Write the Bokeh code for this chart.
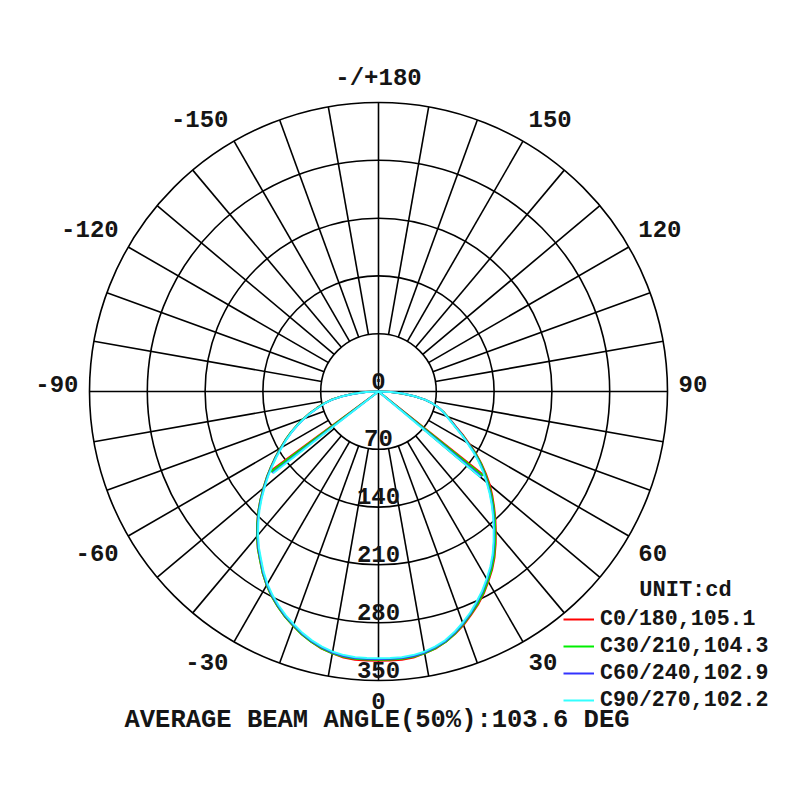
import numpy as np
from bokeh.plotting import figure
from bokeh.models import Range1d, Legend, LegendItem, Label, ColumnDataSource
from bokeh.embed import file_html
from bokeh.resources import INLINE
from bokeh.core.properties import value

# ---------------- data ----------------
gamma = [0, 2.5, 5, 7.5, 10, 12.5, 15, 17.5, 20, 22.5, 25, 27.5, 30, 32.5, 35, 37.5,
         40, 42.5, 45, 47.5, 50, 52.5, 55, 57.5, 60, 62.5, 65, 67.5, 70, 72.5, 75,
         77.5, 80, 82.5, 85, 87.5, 90]

series_names = ["C0/180,105.1", "C30/210,104.3", "C60/240,102.9", "C90/270,102.2"]
series_colors = ["#ff0000", "#00ee00", "#3333ff", "#33ffff"]

# intensity (cd) on the C0..C90 side (right, positive gamma)
right_c0 = [326, 326, 326, 325, 322, 319, 314, 308, 301, 293, 285, 276, 266, 256, 245, 233,
            221, 209.5, 198, 187, 176, 164, 152, 140, 127, 116, 105, 96.5, 89, 82.5, 75,
            67, 57, 44, 30, 15, 0]
right_c30 = [325, 325, 325, 324, 322, 318.5, 314, 307.5, 300, 292, 284, 275, 265, 255, 244, 232,
             220, 208.5, 197, 185.5, 174, 162.5, 151, 139, 126, 115, 104, 96, 89, 82.5, 75,
             67, 57, 44, 30, 15, 0]
right_c60 = [324, 324, 324, 323, 321, 317.5, 313, 306.5, 299, 291, 282, 273, 263, 253, 242, 230,
             218, 206.5, 195, 183.5, 172, 160.5, 149, 137, 125, 114, 104, 95.5, 88, 82, 75,
             67, 57, 44, 29, 15, 0]
right_c90 = [323, 323, 323, 322, 320, 316.5, 312, 305.5, 298, 290, 281, 272, 262, 252, 241, 229,
             217, 205.5, 194, 182.5, 171, 159.5, 148, 136, 124, 113.5, 103, 95, 88, 82, 75,
             67, 57, 44, 29, 15, 0]
# intensity (cd) on the C180..C270 side (left, negative gamma)
left_c0 = [326, 326, 326, 325, 322, 319, 314, 308.5, 302, 295.5, 288, 280, 271, 261, 250, 240,
           229, 217.5, 206, 194, 182, 170.5, 159, 148, 137, 127, 117, 107, 97, 87, 77,
           68, 58, 45, 31, 16, 0]
left_c30 = [325, 325, 325, 324, 322, 318.5, 314, 308.5, 302, 295.5, 288, 280, 271, 261, 250, 240,
            229, 217.5, 206, 194, 182, 170.5, 159, 148, 137, 127, 117, 107, 97, 87, 77,
            68, 58, 45, 31, 16, 0]
left_c60 = [324, 324, 324, 323, 321, 317.5, 313, 307.5, 301, 294.5, 287, 279, 270, 260, 249, 239,
            228, 216.5, 205, 193, 181, 169.5, 158, 147, 136, 126, 116, 106, 96, 86, 76,
            67, 57, 44, 30, 15, 0]
left_c90 = [323, 323, 323, 322, 320, 316.5, 312, 306.5, 300, 293.5, 286, 278, 269, 259, 248, 238,
            227, 215.5, 204, 192, 180, 168.5, 157, 146, 135, 125.5, 116, 106, 96, 86, 76,
            67, 57, 44, 30, 15, 0]

right_values = [right_c0, right_c30, right_c60, right_c90]
left_values = [left_c0, left_c30, left_c60, left_c90]

# half beam angles (50% of max) on each side, degrees
beam_half_left = [53.6, 53.2, 52.5, 52.2]
beam_half_right = [51.5, 51.1, 50.4, 50.0]

ring_values = [0, 70, 140, 210, 280, 350]
ring_labels = ["0", "70", "140", "210", "280", "350"]
angle_ticks = [0, 30, 60, 90, 120, 150, 180, 210, 240, 270, 300, 330]
angle_tick_labels = ["0", "30", "60", "90", "120", "150", "-/+180", "-150", "-120", "-90", "-60", "-30"]

unit_text = "UNIT:cd"
title_text = "AVERAGE BEAM ANGLE(50%):103.6 DEG"

# ---------------- layout ----------------
W, H = 784, 784
cx, cy = 378, 391          # center of the polar plot in canvas pixels
r_max = ring_values[-1]
px_outer = 289.0
s = r_max / px_outer       # cd per pixel
LABEL_FONT = "Liberation Mono"
TXT = "#151515"

p = figure(width=W, height=H, output_backend="svg", toolbar_location=None,
           x_axis_type=None, y_axis_type=None, min_border=0,
           x_range=Range1d(-cx * s, (W - cx) * s),
           y_range=Range1d(-(H - cy) * s, cy * s))
p.grid.visible = False
p.outline_line_color = None
p.background_fill_color = "white"
p.border_fill_color = "white"

def polar(r, deg):
    a = np.radians(deg)
    return r * np.sin(a), -r * np.cos(a)

# rings
p.circle(x=[0] * (len(ring_values) - 1), y=[0] * (len(ring_values) - 1),
         radius=ring_values[1:], fill_color=None, line_color="black", line_width=1.6)

# radial lines every 10 degrees (from first ring outward), axes through center
x0s, y0s, x1s, y1s = [], [], [], []
for d in range(0, 360, 10):
    if d % 90 == 0:
        continue
    xa, ya = polar(ring_values[1], d)
    xb, yb = polar(r_max, d)
    x0s.append(xa); y0s.append(ya); x1s.append(xb); y1s.append(yb)
x0s += [0, -r_max]; y0s += [-r_max, 0]; x1s += [0, r_max]; y1s += [r_max, 0]
p.segment(x0=x0s, y0=y0s, x1=x1s, y1=y1s, line_color="black", line_width=1.6)

# ring value labels
p.text(x=[0] * len(ring_values), y=[-v for v in ring_values], text=ring_labels,
       text_font=value(LABEL_FONT), text_font_style="bold", text_font_size="24px",
       text_color=TXT, text_align="center", text_baseline="middle", y_offset=-11)

# angle labels
label_r = 300 * s
lx, ly, la, loff = [], [], [], []
for d in angle_ticks:
    xx, yy = polar(label_r, d)
    lx.append(xx); ly.append(yy)
    sn = np.sin(np.radians(d))
    la.append("left" if sn > 0.01 else ("right" if sn < -0.01 else "center"))
    if abs(sn) > 0.99:
        loff.append(-8)
    elif yy > 0:
        loff.append(-13)
    elif abs(sn) < 0.01:
        loff.append(9)
    else:
        loff.append(11)
src = ColumnDataSource(dict(x=lx, y=ly, text=angle_tick_labels, align=la, off=loff))
p.text(x="x", y="y", text="text", source=src, text_align="align", y_offset="off",
       text_font=value(LABEL_FONT), text_font_style="bold", text_font_size="24px",
       text_color=TXT, text_baseline="middle")

# curves
renderers = []
for i in range(len(series_names)):
    gs = [-g for g in gamma[::-1]] + gamma[1:]
    vs = left_values[i][::-1] + right_values[i][1:]
    xs, ys = polar(np.array(vs, dtype=float), np.array(gs, dtype=float))
    r = p.line(xs, ys, line_color=series_colors[i], line_width=2, line_join="round")
    imax = max(max(left_values[i]), max(right_values[i]))
    bxl, byl = polar(imax / 2.0, -beam_half_left[i])
    bxr, byr = polar(imax / 2.0, beam_half_right[i])
    p.line([bxl, 0, bxr], [byl, 0, byr], line_color=series_colors[i], line_width=2)
    renderers.append(r)

legend = Legend(items=[LegendItem(label=series_names[i], renderers=[renderers[i]])
                       for i in range(len(series_names))],
                location=(563, 71), orientation="vertical",
                label_text_font=LABEL_FONT, label_text_font_style="bold",
                label_text_font_size="21.6px",
                label_text_color=TXT, glyph_width=31, glyph_height=26,
                label_height=26, label_standoff=6, spacing=1, padding=0, margin=0,
                border_line_color=None, background_fill_alpha=0)
p.add_layout(legend)

p.add_layout(Label(x=685, y=H - 590, x_units="screen", y_units="screen", text=unit_text,
                   text_font="Liberation Mono", text_font_style="bold", text_font_size="22px",
                   text_align="center", text_baseline="middle", text_color=TXT))

p.add_layout(Label(x=376.5, y=H - 720, x_units="screen", y_units="screen", text=title_text,
                   text_font="Liberation Mono", text_font_style="bold", text_font_size="25.5px",
                   text_align="center", text_baseline="middle", text_color=TXT))

open("out.html", "w").write(file_html(p, INLINE))
